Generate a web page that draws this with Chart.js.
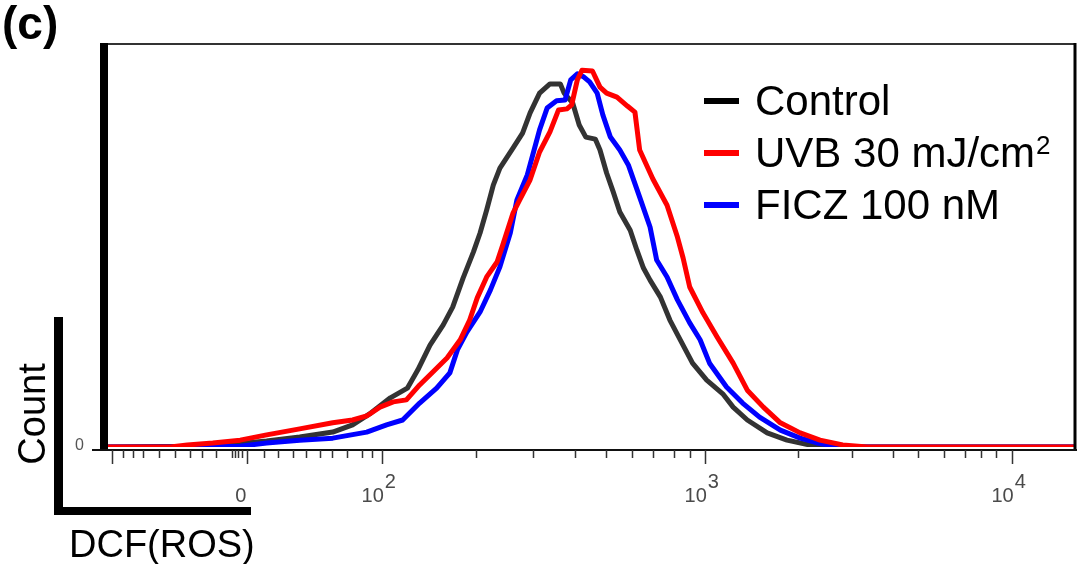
<!DOCTYPE html>
<html>
<head>
<meta charset="utf-8">
<title>DCF (ROS) histogram</title>
<script src="https://cdn.jsdelivr.net/npm/chart.js@4.4.1/dist/chart.umd.min.js"></script>
<style>
  html, body { margin: 0; padding: 0; background: #fff; }
  #wrap { width: 1079px; height: 564px; position: relative; }
</style>
</head>
<body>
<div id="wrap"><canvas id="histo"></canvas></div>
<script>
// x = display channel (0-1024, biexponential axis), y = % of max count
const controlX = [0, 87, 132, 168, 203, 238, 259, 277, 299, 317, 328, 341, 355, 365, 376, 387, 394, 401, 408, 415,
  429, 439, 447, 457, 468, 479, 483, 492, 499, 506, 516, 521, 528, 535, 542, 553, 560, 567, 574, 585,
  595, 606, 619, 634, 651, 662, 677, 698, 719, 743, 770, 1024];
const controlY = [0, 0.2, 0.7, 1.5, 2.5, 3.7, 5.5, 8.2, 12.2, 14.6, 19.1, 25.3, 30.3, 34.7, 41.9, 48.4, 53.1, 58.8, 65.0, 69.2,
  74.2, 77.9, 82.9, 87.8, 90.1, 90.1, 87.8, 85.4, 79.9, 76.9, 76.4, 73.7, 68.0, 63.3, 58.3, 53.8, 48.9, 44.4, 41.4, 37.2,
  31.5, 26.6, 20.8, 16.6, 13.2, 9.9, 6.7, 3.5, 1.7, 0.5, 0, 0];

const uvbX = [0, 66, 84, 111, 140, 168, 203, 238, 259, 274, 288, 302, 316, 330, 344, 359, 373, 383, 391, 401,
  412, 418, 429, 436, 447, 457, 468, 477, 486, 491, 497, 502, 513, 521, 528, 539, 550, 558, 563, 577,
  592, 603, 609, 616, 630, 645, 662, 677, 694, 712, 733, 754, 778, 804, 1024];
const uvbY = [0, 0, 0.5, 1.0, 1.7, 3.0, 4.5, 6.0, 6.7, 7.7, 9.9, 11.2, 11.7, 15.4, 18.6, 22.1, 26.6, 31.5, 37.0, 42.2,
  45.9, 50.1, 58.1, 61.3, 66.3, 73.2, 78.2, 83.6, 83.9, 84.9, 91.1, 93.5, 93.3, 89.3, 87.8, 86.8, 84.6, 83.1, 73.7, 66.5,
  60.0, 52.1, 46.9, 39.7, 33.3, 27.3, 20.8, 14.1, 9.9, 6.0, 3.5, 1.7, 0.5, 0, 0];

const ficzX = [0, 97, 140, 168, 203, 238, 274, 295, 312, 330, 348, 362, 370, 380, 394, 405, 415, 426, 433, 444,
  457, 465, 475, 484, 490, 497, 504, 510, 518, 524, 532, 542, 551, 563, 574, 581, 592, 603, 616, 627,
  637, 655, 672, 690, 712, 733, 751, 775, 1024];
const ficzY = [0, 0, 0.2, 1.0, 1.7, 2.2, 3.7, 5.5, 6.7, 10.9, 14.6, 18.4, 24.1, 28.5, 33.5, 39.0, 44.7, 53.1, 61.3, 67.5,
  78.7, 84.1, 85.9, 86.1, 91.1, 92.6, 91.8, 90.6, 87.8, 82.4, 76.9, 73.7, 70.0, 62.0, 54.6, 46.4, 42.2, 36.5, 30.8, 26.6,
  20.8, 14.9, 10.9, 7.4, 4.2, 2.2, 1.0, 0, 0];

const seriesNames = ['Control', 'UVB 30 mJ/cm^2', 'FICZ 100 nM'];
const seriesColors = ['#333333', '#ff0000', '#0000ff'];
const legendColors = ['#000000', '#ff0000', '#0000ff'];

// axis ticks in channel units
const majorTicks = [4, 147, 290, 632, 957];
const majorLabels = ['', '0', '10^2', '10^3', '10^4'];
const minorTicks = [16, 26, 37, 54, 71, 87, 100, 114, 131, 134, 138, 142,
  165, 180, 196, 210, 224, 237, 253, 269, 280,
  390, 450, 494, 527, 555, 577, 599, 616,
  731, 788, 831, 858, 885, 908, 924, 940];

const toPoints = (xs, ys) => xs.map((v, i) => ({ x: v, y: ys[i] }));

const FONT = '"Liberation Sans", Arial, Helvetica, sans-serif';

// draws text with "^" part as superscript
function drawSup(ctx, text, x, y, size, supSize, rise) {
  const parts = text.split('^');
  ctx.font = size + 'px ' + FONT;
  ctx.textAlign = 'left';
  ctx.fillText(parts[0], x, y);
  if (parts.length > 1) {
    const w = ctx.measureText(parts[0]).width;
    ctx.font = supSize + 'px ' + FONT;
    ctx.fillText(parts[1], x + w + 1, y - rise);
  }
}

const framePlugin = {
  id: 'frame',
  afterDatasetsDraw(chart) {
    const { ctx, chartArea: a, scales: { x, y } } = chart;
    const base = y.getPixelForValue(0) + 3;
    ctx.save();

    // top and right border
    ctx.strokeStyle = '#333';
    ctx.lineWidth = 2;
    ctx.beginPath();
    ctx.moveTo(a.left, a.top);
    ctx.lineTo(a.right, a.top);
    ctx.stroke();
    ctx.strokeStyle = '#000';
    ctx.lineWidth = 3;
    ctx.beginPath();
    ctx.moveTo(a.right, a.top - 1);
    ctx.lineTo(a.right, base);
    ctx.stroke();

    // thick left bar
    ctx.fillStyle = '#000';
    ctx.fillRect(a.left - 8, a.top - 1, 8, base - a.top + 2);

    // x axis line
    ctx.strokeStyle = '#111';
    ctx.lineWidth = 2;
    ctx.beginPath();
    ctx.moveTo(a.left - 16, base);
    ctx.lineTo(a.right + 2, base);
    ctx.stroke();

    // ticks
    ctx.strokeStyle = '#333';
    ctx.lineWidth = 1.5;
    ctx.beginPath();
    minorTicks.forEach(v => {
      const px = Math.round(x.getPixelForValue(v)) + 0.5;
      ctx.moveTo(px, base);
      ctx.lineTo(px, base + 8);
    });
    majorTicks.forEach(v => {
      const px = Math.round(x.getPixelForValue(v)) + 0.5;
      ctx.moveTo(px, base);
      ctx.lineTo(px, base + 14);
    });
    ctx.stroke();

    // tick labels
    ctx.fillStyle = '#4a4a4a';
    ctx.textBaseline = 'alphabetic';
    majorTicks.forEach((v, i) => {
      const lab = majorLabels[i];
      if (!lab) return;
      const px = x.getPixelForValue(v);
      ctx.font = '20px ' + FONT;
      if (lab.indexOf('^') < 0) {
        ctx.textAlign = 'center';
        ctx.fillText(lab, px - 6, base + 52);
      } else {
        const parts = lab.split('^');
        ctx.textAlign = 'right';
        ctx.fillText(parts[0], px + 2, base + 52);
        ctx.textAlign = 'left';
        ctx.fillText(parts[1], px + 3, base + 38);
      }
    });

    // y zero label
    ctx.font = '16px ' + FONT;
    ctx.fillStyle = '#555';
    ctx.textAlign = 'right';
    ctx.fillText('0', a.left - 24, base);

    // legend
    seriesNames.forEach((name, i) => {
      const ly = 101 + i * 52;
      ctx.strokeStyle = legendColors[i];
      ctx.lineWidth = 6;
      ctx.beginPath();
      ctx.moveTo(704, ly);
      ctx.lineTo(739, ly);
      ctx.stroke();
      ctx.fillStyle = '#000';
      drawSup(ctx, name, 755, ly + 14, 42, 26, 13);
    });

    // scale-bar style axis annotation
    ctx.fillStyle = '#000';
    ctx.fillRect(54, 317, 9, 198);
    ctx.fillRect(54, 507, 197, 8);
    ctx.font = '38px ' + FONT;
    ctx.textAlign = 'left';
    ctx.fillText('DCF(ROS)', 69, 557);
    ctx.save();
    ctx.translate(45, 414);
    ctx.rotate(-Math.PI / 2);
    ctx.textAlign = 'center';
    ctx.fillText('Count', 0, 0);
    ctx.restore();

    // panel letter
    ctx.font = 'bold 46px ' + FONT;
    ctx.textAlign = 'left';
    ctx.fillText('(c)', 2, 39);

    ctx.restore();
  }
};

const ctx = document.getElementById('histo').getContext('2d');
new Chart(ctx, {
  type: 'line',
  data: {
    datasets: [
      { label: seriesNames[0], data: toPoints(controlX, controlY), borderColor: seriesColors[0], order: 2 },
      { label: seriesNames[1], data: toPoints(uvbX, uvbY), borderColor: seriesColors[1], order: 0 },
      { label: seriesNames[2], data: toPoints(ficzX, ficzY), borderColor: seriesColors[2], order: 1 }
    ]
  },
  options: {
    responsive: true,
    maintainAspectRatio: false,
    animation: false,
    layout: { padding: { left: 108, right: 4, top: 44, bottom: 117 } },
    elements: {
      line: { borderWidth: 5, tension: 0, fill: false, borderJoinStyle: 'round', borderCapStyle: 'butt' },
      point: { radius: 0 }
    },
    scales: {
      x: { type: 'linear', min: 0, max: 1024, display: false },
      y: { min: 0, max: 100, display: false }
    },
    plugins: {
      legend: { display: false },
      tooltip: { enabled: false }
    }
  },
  plugins: [framePlugin]
});
</script>
</body>
</html>
